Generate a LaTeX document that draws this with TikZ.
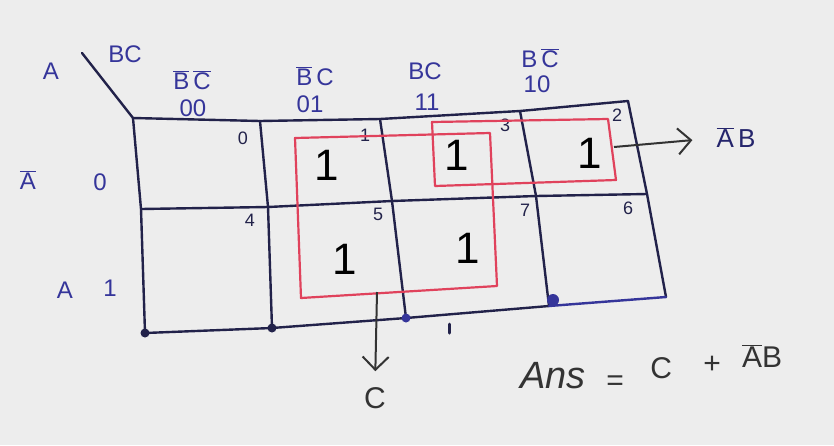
\documentclass[tikz,border=0pt]{standalone}
\usepackage{fontspec}
\setmainfont{Liberation Sans}
\usetikzlibrary{arrows.meta}
\definecolor{ink}{HTML}{22224A}
\definecolor{blueink}{HTML}{35359A}
\definecolor{redink}{HTML}{E0425C}
\definecolor{paper}{HTML}{EDEDED}
\definecolor{pencil}{HTML}{333333}
\newcommand{\ovl}[1]{$\overline{\mbox{#1}}$}
\begin{document}
\begin{tikzpicture}[x=1pt,y=-1pt,
  gridline/.style={draw=ink,line width=2.4pt,line cap=round,line join=round},
  hdr/.style={text=blueink,font=\fontsize{24}{24}\selectfont,inner sep=0pt},
  rowlab/.style={text=blueink,font=\fontsize{24}{24}\selectfont,inner sep=0pt},
  one/.style={text=black,font=\fontsize{44}{44}\selectfont,inner sep=0pt},
  idx/.style={text=ink,font=\fontsize{18}{18}\selectfont,inner sep=0pt},
  grp/.style={draw=redink,line width=2.2pt,line join=round},
  conn/.style={draw=pencil,line width=2pt,-{Straight Barb[length=13pt,width=26pt,line width=2pt]}},
  dot/.style={fill=ink,circle,inner sep=0pt,minimum size=9pt},
  ans/.style={text=pencil,font=\fontsize{30}{30}\selectfont,inner sep=0pt}]
\fill[paper] (0,0) rectangle (834,445);
\useasboundingbox (0,0) rectangle (834,445);

% corner label
\node[rowlab] (lA) at (51,71) {A};
\node[hdr] (lBC) at (125,54) {BC};
\coordinate (diag) at (82,53);
\coordinate (tl) at (133,118);
\draw[gridline] (diag) -- (tl);

% grid coordinates
\coordinate (t1) at (260,121);
\coordinate (t2) at (380,119);
\coordinate (t3) at (520,111);
\coordinate (tr) at (628,101);
\coordinate (ml) at (141,209);
\coordinate (m1) at (268,207);
\coordinate (m2) at (392,201);
\coordinate (m3) at (536,196);
\coordinate (mr) at (647,194);
\coordinate (bl) at (145,333);
\coordinate (b1) at (272,328);
\coordinate (b2) at (406,318);
\coordinate (b3) at (549,306);
\coordinate (br) at (666,297);

\draw[gridline] (tl) -- (t1) -- (t2) -- (t3) -- (tr);
\draw[gridline] (tl) -- (ml) -- (bl);
\draw[gridline] (t1) -- (m1) -- (b1);
\draw[gridline] (t2) -- (m2) -- (b2);
\draw[gridline] (t3) -- (m3) -- (b3);
\draw[gridline] (tr) -- (mr) -- (br);
\draw[gridline] (ml) -- (m1) -- (m2) -- (m3) -- (mr);
\draw[gridline] (bl) -- (b1) -- (b2) -- (b3);
\draw[gridline,draw=blueink] (b3) -- (br);
\node[dot] (d0) at (bl) {};
\node[dot] (d1) at (b1) {};
\node[dot,fill=blueink] (d2) at (b2) {};
\node[dot,fill=blueink,minimum size=12pt] (d3) at (553,300) {};
\draw[ink,line width=3pt,line cap=round] (449,324) -- (449,333);

% column headers
\node[hdr] (h0) at (192,80) {\ovl{B}\,\ovl{C}};
\node[hdr] (n0) at (193,108) {00};
\node[hdr] (h1) at (315,76) {\ovl{B}\,C};
\node[hdr] (n1) at (310,104) {01};
\node[hdr] (h2) at (425,71) {BC};
\node[hdr] (n2) at (427,102) {11};
\node[hdr] (h3) at (540,58) {B\,\ovl{C}};
\node[hdr] (n3) at (537,84) {10};

% row headers
\node[rowlab] (rA0) at (28,180) {\ovl{A}};
\node[rowlab] (r0) at (100,182) {0};
\node[rowlab] (rA1) at (65,290) {A};
\node[rowlab] (r1) at (110,288) {1};

% cell indices
\node[idx] (i0) at (243,138) {0};
\node[idx] (i1) at (365,135) {1};
\node[idx] (i3) at (505,125) {3};
\node[idx] (i2) at (617,115) {2};
\node[idx] (i4) at (250,220) {4};
\node[idx] (i5) at (378,214) {5};
\node[idx] (i7) at (525,210) {7};
\node[idx] (i6) at (628,208) {6};

% ones
\node[one] (o1) at (327,165) {1};
\node[one] (o3) at (457,155) {1};
\node[one] (o2) at (590,153) {1};
\node[one] (o5) at (345,259) {1};
\node[one] (o7) at (468,248) {1};

% groups
\draw[grp] (295,138) -- (490,133) -- (497,286) -- (301,298) -- cycle;
\draw[grp] (432,122) -- (608,119) -- (616,180) -- (435,186) -- cycle;

% arrows and labels
\coordinate (gsmall) at (614,147);
\coordinate (gbig) at (377,292);
\node[text=blueink!70!black,font=\fontsize{26}{26}\selectfont,inner sep=0pt] (lab1) at (736,138) {\ovl{A}\,B};
\node[ans] (labC) at (375,398) {C};
\draw[conn,shorten >=24pt] (gsmall) -- (lab1.west);
\draw[conn,shorten >=16pt] (gbig) -- (labC.north);

\node[ans,anchor=base west] (answer) at (508,388) {%
  \makebox[90pt][c]{\fontsize{38}{38}\selectfont\itshape Ans}%
  \makebox[34pt][c]{\raisebox{-2pt}{=}}%
  \makebox[58pt][c]{\raisebox{10pt}{C}}%
  \makebox[44pt][c]{\raisebox{15pt}{+}}%
  \makebox[56pt][c]{\raisebox{21pt}{\ovl{A}B}}};
\end{tikzpicture}
\end{document}
